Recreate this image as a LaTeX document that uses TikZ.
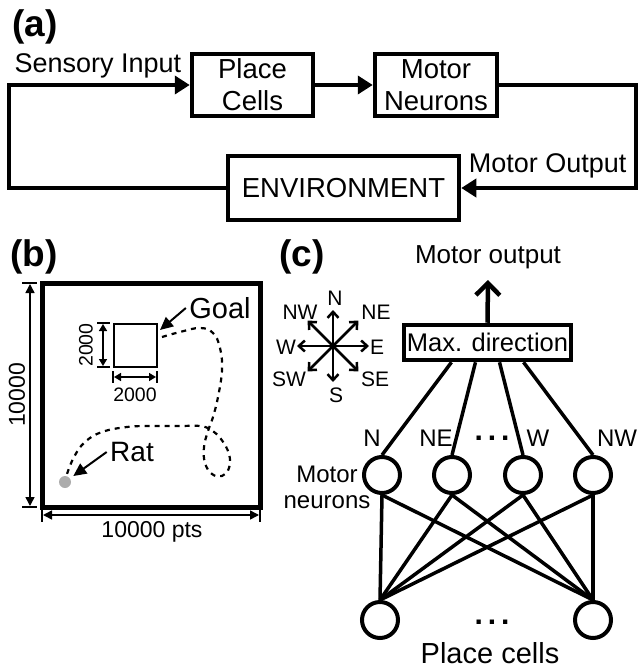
\documentclass[tikz,border=0pt]{standalone}
\usepackage{fontspec}
\setmainfont{Liberation Sans}
\usetikzlibrary{arrows.meta,calc}
\newcommand{\fsz}[1]{\fontsize{#1}{#1}\selectfont}

\begin{document}
\begin{tikzpicture}[x=1pt,y=-1pt,font=\fsz{27.5},
    box/.style={draw,line width=4.5pt,inner sep=0pt,align=center},
    flow/.style={line width=4.5pt,-{Triangle[length=15pt,width=18pt]}},
    panel/.style={anchor=base west,font=\bfseries\fsz{37}},
    dim/.style={line width=1.5pt,{Triangle[length=9pt,width=9pt]}-{Triangle[length=9pt,width=9pt]}},
    sdim/.style={line width=1.5pt,{Triangle[length=7pt,width=8pt]}-{Triangle[length=7pt,width=8pt]}},
    tick/.style={line width=1.5pt},
    pointer/.style={line width=2pt,-{Triangle[length=13pt,width=12pt]}},
    neuron/.style={draw,circle,line width=4pt,minimum size=36pt,inner sep=0pt},
    syn/.style={line width=3.5pt},
    dots/.style={font=\bfseries\fsz{30}},
    cmparrow/.style={line width=2.5pt,-{Straight Barb[length=6pt,width=11pt]}}]
  \useasboundingbox (0,0) rectangle (641,668);

  % (a)
  \node[panel] (la) at (9,37) {(a)};
  \node[box,font=\fontsize{27.5}{32}\selectfont,minimum width=121pt,minimum height=62pt] (place) at (252.5,85) {Place\\Cells};
  \node[box,font=\fontsize{27.5}{32}\selectfont,minimum width=122pt,minimum height=62pt] (motor) at (436,85) {Motor\\Neurons};
  \node[box,minimum width=231pt,minimum height=64pt] (env) at (343.5,188) {ENVIRONMENT};
  \node[anchor=base west,font=\fsz{27}] (sens) at (11,73) {Sensory Input};
  \node[anchor=base east,font=\fsz{27}] (mout) at (630,173) {Motor Output};
  \coordinate (ne) at (636,85);
  \coordinate (se) at (636,188);
  \coordinate (sw) at (9,188);
  \coordinate (nw) at (9,85);
  \draw[flow] (place) -- (motor);
  \draw[flow] (motor.east) -- (ne) -- (se) -- (env.east);
  \draw[flow] (env.west) -- (sw) -- (nw) -- (place.west);

  % (b)
  \node[panel] (lb) at (7,266) {(b)};
  \node[draw,line width=5pt,inner sep=0pt,minimum width=218pt,minimum height=224pt] (arena) at (151,395) {};
  \draw[tick] (22,283) -- (37,283) (22,507) -- (37,507);
  \draw[dim] (30,284) -- (30,506);
  \node[rotate=90,font=\fsz{23}] (hgt) at (17,395) {10000};
  \draw[tick] (42,509) -- (42,522) (260,509) -- (260,522);
  \draw[dim] (43,515) -- (259,515);
  \node[font=\fsz{23}] (wid) at (152,532) {10000 pts};

  \node[draw,line width=2pt,inner sep=0pt,minimum size=43pt] (goal) at (135,345) {};
  \draw[tick] (97,323) -- (110,323) (97,367) -- (110,367);
  \draw[sdim] (103,324) -- (103,366);
  \node[rotate=90,font=\fsz{19.5}] (gh) at (86,345) {2000};
  \draw[tick] (113,371) -- (113,383) (157,371) -- (157,383);
  \draw[sdim] (114,377) -- (156,377);
  \node[font=\fsz{19.5}] (gw) at (135,395) {2000};
  \node[font=\fsz{29}] (goallbl) at (220,308) {Goal};
  \coordinate (goaltip) at (160,330);
  \draw[pointer] (goallbl.west) -- (goaltip);

  \node[circle,fill=gray!65,minimum size=12pt,inner sep=0pt] (rat) at (65,482) {};
  \node[font=\fsz{28}] (ratlbl) at (132,452) {Rat};
  \draw[pointer,shorten >=4pt] (ratlbl.west) -- (rat);
  \draw[line width=2.2pt,dash pattern=on 5pt off 5pt] plot[smooth,tension=0.7] coordinates {
    (162,337) (180,332) (200,328) (213,333) (220,348) (222,370) (218,397) (213,417)
    (208,431) (204,447) (205,463) (212,474) (222,476) (229,468) (229,454) (221,439)
    (211,430) (200,426) (180,426) (150,426) (127,427) (102,432) (85,442) (74,457) (67,474)};

  % (c)
  \node[panel] (lc) at (276,266) {(c)};
  \coordinate (cmp) at (333,346);
  \foreach \a in {0,45,...,315}
    \draw[cmparrow] (cmp) -- ++(\a:36pt);
  \foreach \l/\x/\y in {N/335/298,NE/376/312,E/377/347,SE/375/379,S/336/395,SW/289/379,W/286/347,NW/300/312}
    \node[font=\fsz{21}] (d-\l) at (\x,\y) {\l};

  \node[box,minimum width=167pt,minimum height=35pt,font=\fsz{25.5}] (maxdir) at (487.5,342.5) {Max. direction};
  \node[anchor=base,font=\fsz{26}] (mo) at (488,263) {Motor output};
  \coordinate (outtip) at (488,280);
  \draw[line width=4.5pt,-{Straight Barb[length=12pt,width=24pt]}] (maxdir.north) -- (outtip);

  \foreach \i/\x/\l/\lx/\f in {1/382/N/372/0.29,2/452/NE/436/0.43,3/523/W/538/0.57,4/593/NW/617/0.71}{
    \node[neuron] (m\i) at (\x,475) {};
    \node[font=\fsz{24}] (ml\i) at (\lx,438) {\l};
    \draw[syn] ($(maxdir.south west)!\f!(maxdir.south east)$) -- (m\i.north);
  }
  \node[dots] (mdots) at (492,438) {.\,.\,.};
  \node[align=center,font=\fontsize{24}{26}\selectfont] (mlbl) at (327,487) {Motor\\neurons};

  \node[neuron] (p1) at (380,620) {};
  \node[neuron] (p2) at (593,620) {};
  \node[dots] (pdots) at (492,622) {.\,.\,.};
  \foreach \i in {1,...,4}{
    \draw[syn] (m\i.south) -- (p1.north);
    \draw[syn] (m\i.south) -- (p2.north);
  }
  \node[anchor=base,font=\fsz{29}] (plbl) at (490,663) {Place cells};
\end{tikzpicture}
\end{document}
